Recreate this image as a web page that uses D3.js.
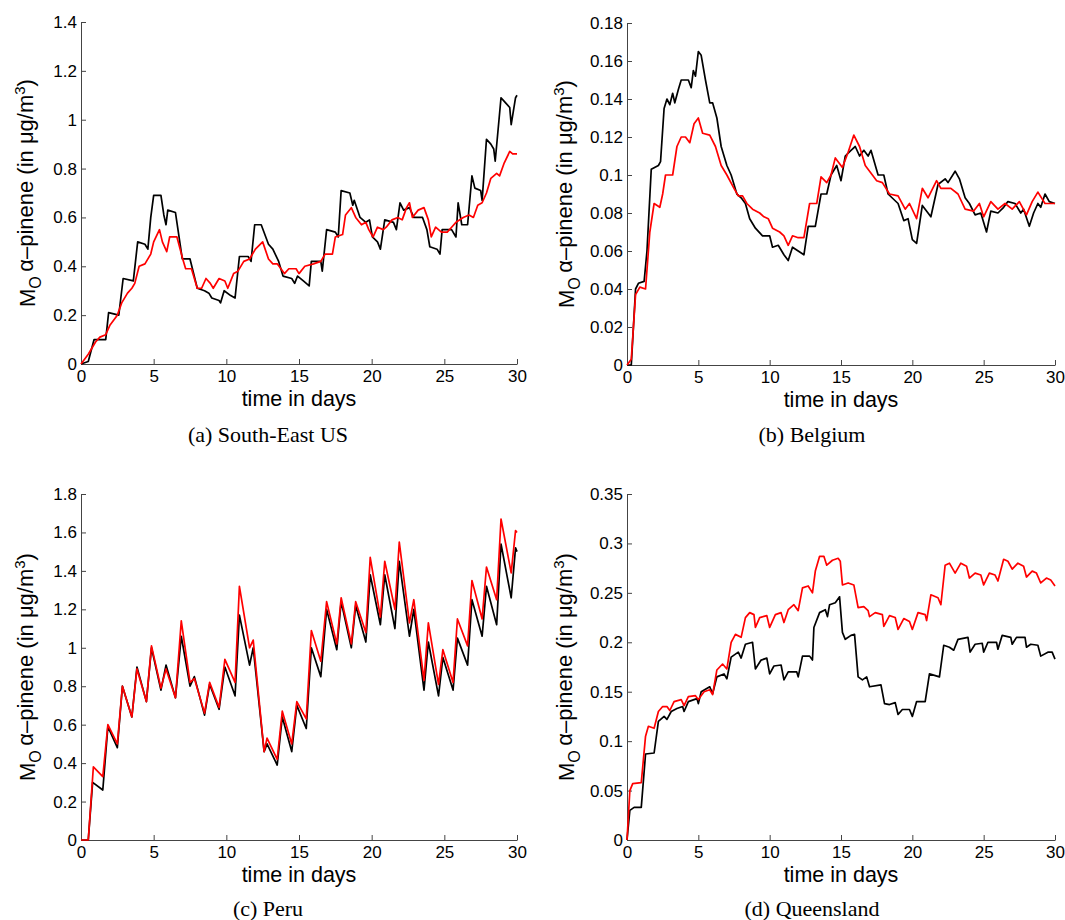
<!DOCTYPE html>
<html>
<head>
<meta charset="utf-8">
<script src="https://cdn.jsdelivr.net/npm/d3@7"></script>
<style>
  html, body { margin: 0; padding: 0; background: #fff; }
  svg { display: block; }
  .tick text { font-family: 'Liberation Sans', Arial, sans-serif; font-size: 17px; fill: #000; }
  .axis path, .axis line { stroke: #444; }
</style>
</head>
<body>
<script>
// time in days vs alpha-pinene mass (ug/m3)
const dayTicks = [0, 5, 10, 15, 20, 25, 30]

const southEastTicks = [0, 0.2, 0.4, 0.6, 0.8, 1, 1.2, 1.4]
const southEastBlack = [[0,0],[0.5,0.01],[0.9,0.1],[1.7,0.1],[1.9,0.21],[2.6,0.2],[2.9,0.35],[3.6,0.34],[3.9,0.5],[4.4,0.49],[4.6,0.47],[4.8,0.6],[5.0,0.69],[5.5,0.69],[5.7,0.61],[5.85,0.57],[5.97,0.63],[6.5,0.62],[6.97,0.43],[7.5,0.43],[8.0,0.31],[8.5,0.3],[8.8,0.29],[9.0,0.27],[9.5,0.26],[9.6,0.25],[9.85,0.3],[10.3,0.28],[10.6,0.27],[10.9,0.44],[11.5,0.44],[11.7,0.42],[11.95,0.57],[12.4,0.57],[12.9,0.49],[13.2,0.47],[13.6,0.42],[13.9,0.36],[14.5,0.35],[14.7,0.33],[14.9,0.36],[15.3,0.34],[15.7,0.32],[15.85,0.42],[16.5,0.42],[16.6,0.38],[16.9,0.55],[17.5,0.54],[17.7,0.52],[17.9,0.71],[18.5,0.7],[18.7,0.65],[18.8,0.67],[19.2,0.6],[19.6,0.58],[19.85,0.59],[20.05,0.52],[20.4,0.5],[20.6,0.47],[20.9,0.59],[21.5,0.58],[21.7,0.55],[21.95,0.66],[22.2,0.63],[22.6,0.64],[22.9,0.6],[23.5,0.6],[23.8,0.55],[24.0,0.48],[24.5,0.47],[24.7,0.45],[24.85,0.55],[25.5,0.55],[25.8,0.52],[25.95,0.66],[26.2,0.57],[26.6,0.57],[26.9,0.77],[27.1,0.72],[27.5,0.71],[27.6,0.67],[27.9,0.92],[28.2,0.9],[28.4,0.88],[28.5,0.83],[28.9,1.09],[29.2,1.07],[29.5,1.05],[29.6,0.98],[29.9,1.09],[30,1.1]]
const southEastRed = [[0,0],[0.5,0.04],[1.0,0.09],[1.3,0.11],[1.7,0.12],[2.0,0.16],[2.5,0.2],[2.8,0.25],[3.2,0.29],[3.5,0.31],[3.7,0.33],[4.0,0.4],[4.4,0.41],[4.8,0.45],[5.0,0.5],[5.4,0.55],[5.6,0.5],[5.9,0.46],[6.1,0.52],[6.6,0.52],[7.0,0.43],[7.2,0.39],[7.6,0.39],[8.0,0.31],[8.3,0.31],[8.6,0.35],[8.9,0.33],[9.1,0.31],[9.5,0.35],[9.9,0.34],[10.1,0.31],[10.5,0.37],[10.8,0.38],[11.2,0.42],[11.6,0.43],[12.0,0.47],[12.5,0.5],[12.9,0.43],[13.2,0.41],[13.5,0.41],[14.0,0.37],[14.3,0.39],[14.8,0.39],[15.0,0.37],[15.4,0.4],[16.0,0.41],[16.5,0.42],[16.8,0.45],[17.3,0.45],[17.5,0.52],[18.0,0.53],[18.2,0.61],[18.6,0.64],[18.9,0.6],[19.3,0.57],[19.6,0.58],[19.8,0.55],[20.1,0.52],[20.4,0.56],[20.8,0.55],[21.0,0.56],[21.4,0.59],[21.8,0.6],[22.1,0.59],[22.4,0.64],[22.6,0.66],[22.8,0.6],[23.2,0.63],[23.6,0.64],[23.9,0.59],[24.1,0.52],[24.4,0.56],[24.8,0.54],[25.2,0.54],[25.5,0.56],[25.8,0.58],[26.3,0.6],[26.7,0.61],[27.0,0.6],[27.3,0.65],[27.6,0.66],[27.9,0.7],[28.2,0.76],[28.6,0.78],[28.8,0.77],[29.1,0.82],[29.5,0.87],[29.7,0.86],[30,0.86]]

const belgiumTicks = [0, 0.02, 0.04, 0.06, 0.08, 0.1, 0.12, 0.14, 0.16, 0.18]
const belgiumBlack = [[0,0],[0.3,0],[0.6,0.04],[0.8,0.043],[1.2,0.044],[1.4,0.06],[1.7,0.103],[2.2,0.105],[2.35,0.107],[2.6,0.135],[2.8,0.14],[3.0,0.137],[3.2,0.143],[3.35,0.138],[3.6,0.145],[3.8,0.15],[4.3,0.15],[4.5,0.146],[4.65,0.155],[4.8,0.152],[5.0,0.165],[5.2,0.163],[5.5,0.15],[5.8,0.138],[6.0,0.138],[6.3,0.13],[6.6,0.115],[7.0,0.105],[7.3,0.1],[7.7,0.09],[8.0,0.088],[8.3,0.085],[8.6,0.077],[9.0,0.072],[9.5,0.068],[10.0,0.068],[10.2,0.062],[10.6,0.063],[11.0,0.058],[11.3,0.055],[11.6,0.062],[12.0,0.06],[12.4,0.058],[12.7,0.073],[13.2,0.073],[13.6,0.09],[14.0,0.09],[14.3,0.1],[14.7,0.105],[15.0,0.097],[15.3,0.11],[15.7,0.113],[16.0,0.115],[16.3,0.11],[16.6,0.113],[16.9,0.11],[17.1,0.113],[17.6,0.1],[18.0,0.1],[18.3,0.09],[19.0,0.085],[19.4,0.076],[19.7,0.077],[20.0,0.066],[20.3,0.064],[20.7,0.084],[21.1,0.08],[21.3,0.078],[21.8,0.095],[22.3,0.098],[22.5,0.096],[23.0,0.102],[23.3,0.098],[23.7,0.088],[24.0,0.085],[24.4,0.079],[24.8,0.08],[25.2,0.07],[25.5,0.081],[26.0,0.08],[26.4,0.083],[26.7,0.086],[27.2,0.085],[27.6,0.08],[27.8,0.082],[28.2,0.073],[28.5,0.08],[28.8,0.085],[29.0,0.083],[29.3,0.09],[29.6,0.086],[30,0.085]]
const belgiumRed = [[0,0],[0.3,0.003],[0.6,0.037],[0.9,0.041],[1.3,0.04],[1.6,0.07],[1.9,0.085],[2.3,0.083],[2.5,0.09],[2.7,0.1],[3.2,0.1],[3.5,0.115],[3.8,0.12],[4.1,0.12],[4.4,0.117],[4.7,0.127],[5.0,0.13],[5.3,0.122],[5.8,0.121],[6.2,0.115],[6.6,0.105],[7.0,0.1],[7.5,0.093],[7.8,0.089],[8.1,0.089],[8.4,0.085],[8.8,0.082],[9.3,0.08],[9.6,0.078],[9.9,0.077],[10.2,0.072],[10.7,0.07],[11.0,0.068],[11.3,0.063],[11.6,0.068],[12.0,0.067],[12.4,0.067],[12.8,0.085],[13.3,0.085],[13.6,0.099],[14.0,0.096],[14.3,0.1],[14.6,0.109],[15.1,0.104],[15.5,0.112],[15.9,0.121],[16.3,0.115],[16.7,0.105],[17.2,0.1],[17.5,0.097],[17.9,0.096],[18.4,0.09],[19.0,0.089],[19.5,0.082],[19.8,0.085],[20.3,0.077],[20.7,0.093],[21.1,0.088],[21.7,0.097],[22.0,0.093],[22.7,0.093],[23.2,0.09],[23.7,0.082],[24.3,0.081],[24.7,0.085],[25.0,0.078],[25.5,0.086],[26.0,0.082],[26.5,0.085],[27.0,0.082],[27.5,0.086],[28.0,0.079],[28.4,0.086],[28.8,0.091],[29.3,0.085],[30,0.085]]

const peruTicks = [0, 0.2, 0.4, 0.6, 0.8, 1, 1.2, 1.4, 1.6, 1.8]
const peruBlack = [[0,0],[0.5,0],[0.8,0.3],[1.5,0.26],[1.85,0.59],[2.5,0.48],[2.85,0.8],[3.5,0.64],[3.85,0.9],[4.5,0.72],[4.85,1.0],[5.5,0.78],[5.85,0.91],[6.5,0.74],[6.9,1.06],[7.5,0.8],[7.8,0.85],[8.5,0.65],[8.85,0.81],[9.5,0.68],[9.9,0.9],[10.6,0.75],[10.9,1.17],[11.6,0.91],[11.85,1.0],[12.6,0.46],[12.8,0.5],[13.5,0.39],[13.85,0.64],[14.5,0.46],[14.85,0.7],[15.5,0.58],[15.85,1.0],[16.5,0.85],[16.9,1.2],[17.6,0.99],[17.9,1.24],[18.6,1.0],[18.9,1.22],[19.6,1.03],[19.9,1.38],[20.6,1.12],[20.9,1.38],[21.6,1.1],[21.9,1.45],[22.6,1.06],[22.9,1.2],[23.6,0.78],[23.9,1.03],[24.6,0.75],[24.9,0.95],[25.6,0.78],[25.9,1.05],[26.6,0.91],[26.9,1.25],[27.6,1.06],[27.9,1.32],[28.6,1.12],[28.9,1.54],[29.6,1.26],[29.9,1.52],[30,1.5]]
const peruRed = [[0,0],[0.5,0],[0.85,0.38],[1.5,0.33],[1.85,0.6],[2.5,0.5],[2.85,0.8],[3.5,0.64],[3.85,0.89],[4.5,0.72],[4.85,1.01],[5.5,0.79],[5.85,0.89],[6.5,0.74],[6.9,1.14],[7.5,0.82],[7.8,0.84],[8.5,0.66],[8.85,0.82],[9.5,0.69],[9.9,0.94],[10.6,0.82],[10.9,1.32],[11.6,1.0],[11.85,1.04],[12.6,0.46],[12.8,0.53],[13.5,0.42],[13.85,0.67],[14.5,0.5],[14.85,0.72],[15.5,0.63],[15.85,1.09],[16.5,0.93],[16.9,1.24],[17.6,1.02],[17.9,1.26],[18.6,1.02],[18.9,1.24],[19.6,1.08],[19.9,1.47],[20.6,1.16],[20.9,1.45],[21.6,1.2],[21.9,1.55],[22.6,1.13],[22.9,1.25],[23.6,0.83],[23.9,1.13],[24.6,0.81],[24.9,0.99],[25.6,0.82],[25.9,1.15],[26.6,1.01],[26.9,1.35],[27.6,1.15],[27.9,1.42],[28.6,1.25],[28.9,1.67],[29.6,1.39],[29.9,1.61],[30,1.6]]

const queenslandTicks = [0, 0.05, 0.1, 0.15, 0.2, 0.25, 0.3, 0.35]
const queenslandBlack = [[0,0],[0.2,0.03],[0.5,0.033],[1.0,0.033],[1.3,0.087],[1.9,0.088],[2.2,0.12],[2.6,0.125],[2.8,0.122],[3.1,0.13],[3.5,0.133],[3.9,0.135],[4.0,0.13],[4.3,0.14],[4.9,0.143],[5.0,0.138],[5.2,0.15],[5.8,0.155],[6.0,0.148],[6.3,0.165],[6.8,0.168],[7.0,0.163],[7.3,0.185],[7.8,0.19],[8.0,0.184],[8.3,0.198],[8.8,0.2],[9.0,0.173],[9.4,0.182],[9.8,0.184],[10.0,0.168],[10.3,0.176],[10.8,0.177],[11.0,0.162],[11.3,0.17],[11.9,0.17],[12.0,0.165],[12.3,0.186],[12.8,0.186],[13.0,0.182],[13.1,0.215],[13.5,0.23],[13.9,0.233],[14.05,0.226],[14.2,0.238],[14.6,0.24],[14.9,0.246],[15.1,0.21],[15.3,0.203],[15.7,0.207],[15.95,0.208],[16.2,0.165],[16.5,0.162],[16.8,0.165],[17.0,0.155],[17.8,0.157],[18.05,0.138],[18.4,0.137],[18.8,0.139],[19.0,0.127],[19.3,0.132],[19.8,0.132],[20.0,0.125],[20.3,0.14],[20.9,0.14],[21.2,0.168],[21.9,0.165],[22.2,0.197],[22.6,0.195],[22.9,0.192],[23.2,0.203],[23.9,0.205],[24.05,0.19],[24.4,0.198],[24.9,0.199],[25.0,0.19],[25.3,0.2],[25.9,0.2],[26.0,0.193],[26.3,0.207],[26.9,0.205],[27.0,0.198],[27.3,0.205],[27.9,0.205],[28.0,0.195],[28.3,0.198],[28.8,0.197],[29.0,0.186],[29.5,0.19],[29.8,0.19],[30,0.183]]
const queenslandRed = [[0,0],[0.2,0.05],[0.4,0.057],[1.0,0.058],[1.3,0.105],[1.5,0.115],[1.9,0.113],[2.2,0.13],[2.5,0.135],[2.8,0.135],[3.0,0.131],[3.3,0.14],[3.8,0.142],[4.0,0.136],[4.3,0.145],[4.8,0.146],[5.0,0.142],[5.4,0.15],[5.8,0.152],[6.0,0.147],[6.3,0.172],[6.7,0.178],[7.0,0.173],[7.3,0.2],[7.6,0.208],[8.0,0.205],[8.3,0.225],[8.6,0.23],[8.9,0.228],[9.0,0.215],[9.3,0.225],[9.8,0.227],[10.0,0.215],[10.4,0.228],[10.8,0.23],[11.0,0.22],[11.3,0.233],[11.7,0.238],[12.0,0.232],[12.3,0.255],[12.7,0.257],[13.0,0.25],[13.2,0.272],[13.5,0.287],[13.8,0.287],[14.0,0.278],[14.4,0.283],[14.8,0.285],[14.95,0.282],[15.1,0.258],[15.5,0.26],[15.9,0.258],[16.2,0.235],[16.6,0.236],[16.9,0.232],[17.0,0.226],[17.4,0.23],[17.9,0.228],[18.0,0.216],[18.4,0.227],[18.8,0.225],[19.0,0.213],[19.4,0.224],[19.8,0.221],[20.0,0.213],[20.4,0.23],[20.9,0.228],[21.0,0.222],[21.3,0.248],[21.8,0.245],[22.0,0.238],[22.3,0.278],[22.6,0.28],[23.0,0.27],[23.4,0.28],[23.8,0.277],[24.0,0.265],[24.4,0.27],[24.8,0.268],[25.0,0.258],[25.4,0.27],[25.8,0.268],[26.0,0.262],[26.4,0.284],[26.7,0.282],[27.0,0.274],[27.4,0.28],[27.8,0.277],[28.0,0.266],[28.4,0.272],[28.7,0.27],[29.0,0.26],[29.4,0.265],[29.7,0.263],[30,0.257]]

const captions = ['(a) South-East US', '(b) Belgium', '(c) Peru', '(d) Queensland']

// where each subplot sits on the page
const panels = [
  { black: southEastBlack, red: southEastRed, ticks: southEastTicks, left: 81, top: 22, width: 436, height: 342, labelX: 35, capX: 268, capY: 442 },
  { black: belgiumBlack, red: belgiumRed, ticks: belgiumTicks, left: 627, top: 23, width: 428, height: 342, labelX: 574, capX: 812, capY: 442 },
  { black: peruBlack, red: peruRed, ticks: peruTicks, left: 81, top: 494, width: 436, height: 346, labelX: 35, capX: 268, capY: 916 },
  { black: queenslandBlack, red: queenslandRed, ticks: queenslandTicks, left: 627, top: 494, width: 428, height: 346, labelX: 574, capX: 812, capY: 916 }
]

const sans = "'Liberation Sans', Arial, Helvetica, sans-serif"
const serif = "'Liberation Serif', 'Times New Roman', serif"

const svg = d3.select('body').append('svg')
  .attr('width', 1065)
  .attr('height', 920)

panels.forEach((p, i) => drawPanel(p, captions[i]))

function drawPanel(p, caption) {
  const x = d3.scaleLinear().domain([0, 30]).range([0, p.width])
  const y = d3.scaleLinear().domain([0, d3.max(p.ticks)]).range([p.height, 0])

  const g = svg.append('g').attr('transform', `translate(${p.left},${p.top})`)

  // matlab style: ticks point inwards, no box
  g.append('g')
    .attr('class', 'axis')
    .attr('transform', `translate(0,${p.height})`)
    .call(d3.axisBottom(x).tickValues(dayTicks).tickSizeInner(-5).tickSizeOuter(0).tickPadding(6))

  g.append('g')
    .attr('class', 'axis')
    .call(d3.axisLeft(y).tickValues(p.ticks).tickSizeInner(-5).tickSizeOuter(0).tickPadding(4).tickFormat(d3.format('~g')))

  const line = d3.line()
    .x(d => x(d[0]))
    .y(d => y(d[1]))

  g.append('path')
    .datum(p.black)
    .attr('d', line)
    .attr('fill', 'none')
    .attr('stroke', '#000')
    .attr('stroke-width', 1.7)
    .attr('stroke-linejoin', 'round')

  g.append('path')
    .datum(p.red)
    .attr('d', line)
    .attr('fill', 'none')
    .attr('stroke', '#ff0000')
    .attr('stroke-width', 1.7)
    .attr('stroke-linejoin', 'round')

  // x label
  g.append('text')
    .attr('x', p.width / 2)
    .attr('y', p.height + 42)
    .attr('text-anchor', 'middle')
    .style('font-family', sans)
    .style('font-size', '21.5px')
    .text('time in days')

  // y label with subscript and superscript
  const yl = svg.append('text')
    .attr('transform', `translate(${p.labelX},${p.top + p.height / 2}) rotate(-90)`)
    .attr('text-anchor', 'middle')
    .style('font-family', sans)
    .style('font-size', '22px')
  yl.append('tspan').text('M')
  yl.append('tspan').attr('dy', '0.35em').style('font-size', '16px').text('O')
  yl.append('tspan').attr('dy', '-0.35em').text('\u2009\u03b1\u2013pinene (in \u03bcg/m')
  yl.append('tspan').attr('dy', '-0.5em').style('font-size', '15px').text('3')
  yl.append('tspan').attr('dy', '0.34em').text(')')

  // subfigure caption
  svg.append('text')
    .attr('x', p.capX)
    .attr('y', p.capY)
    .attr('text-anchor', 'middle')
    .style('font-family', serif)
    .style('font-size', '22px')
    .text(caption)
}
</script>
</body>
</html>
